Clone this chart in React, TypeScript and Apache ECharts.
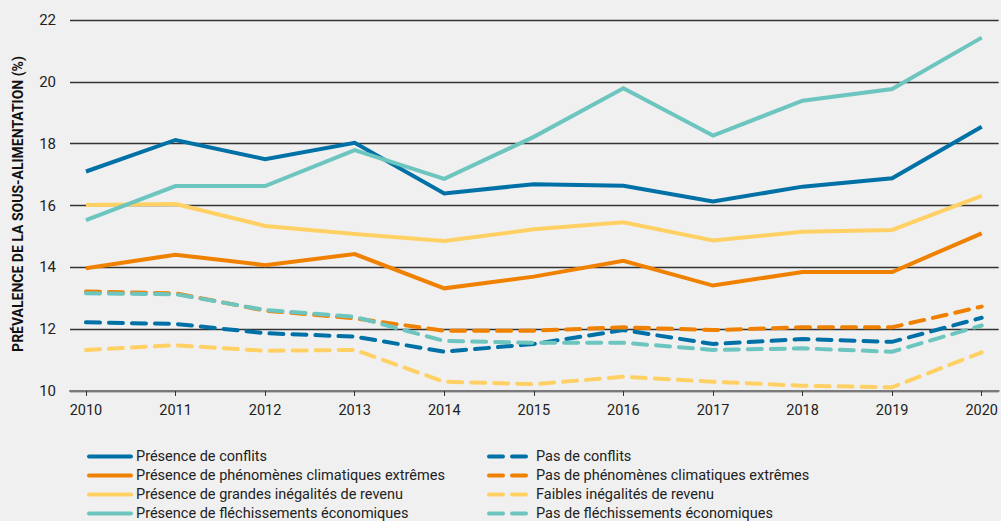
import React, { useEffect, useRef } from "react";
import * as echarts from "echarts";

const years = [2010, 2011, 2012, 2013, 2014, 2015, 2016, 2017, 2018, 2019, 2020];
const yTicks = [10, 12, 14, 16, 18, 20, 22];

const conflits = [17.1, 18.12, 17.5, 18.03, 16.39, 16.69, 16.64, 16.13, 16.61, 16.88, 18.55];
const climat = [13.97, 14.41, 14.07, 14.43, 13.32, 13.7, 14.21, 13.41, 13.85, 13.85, 15.1];
const inegal = [16.02, 16.05, 15.34, 15.08, 14.85, 15.23, 15.46, 14.87, 15.15, 15.21, 16.31];
const flech = [15.53, 16.63, 16.63, 17.79, 16.86, 18.22, 19.79, 18.26, 19.39, 19.77, 21.43];
const pasConflits = [12.22, 12.17, 11.87, 11.76, 11.27, 11.52, 11.97, 11.52, 11.68, 11.59, 12.37];
const pasClimat = [13.22, 13.16, 12.6, 12.35, 11.95, 11.95, 12.06, 11.97, 12.06, 12.06, 12.73];
const pasFlech = [13.16, 13.13, 12.62, 12.4, 11.62, 11.56, 11.56, 11.33, 11.38, 11.27, 12.12];
const faibleInegal = [11.33, 11.48, 11.3, 11.33, 10.3, 10.22, 10.46, 10.3, 10.17, 10.12, 11.25];

const names = {
  conflits: "Présence de conflits",
  climat: "Présence de phénomènes climatiques extrêmes",
  inegal: "Présence de grandes inégalités de revenu",
  flech: "Présence de fléchissements économiques",
  pasConflits: "Pas de conflits",
  pasClimat: "Pas de phénomènes climatiques extrêmes",
  faibleInegal: "Faibles inégalités de revenu",
  pasFlech: "Pas de fléchissements économiques",
};

const BLUE = "#0071a6";
const ORANGE = "#f08100";
const YELLOW = "#ffd164";
const TEAL = "#6cc5bf";
const FONT = "Roboto, 'Liberation Sans Narrow', sans-serif";
const DASH = [14, 9];

function mk(name: string, vals: number[], color: string, dashed: boolean) {
  return {
    name,
    type: "line",
    symbol: "none",
    data: years.map((y, i) => [y, vals[i]]),
    lineStyle: {
      color,
      width: 4,
      type: dashed ? DASH : "solid",
      cap: dashed ? "round" : "butt",
      join: "miter",
    },
    itemStyle: { color },
  };
}

const legendRows: [string, string, boolean, number, number][] = [
  [names.conflits, BLUE, false, 87, 0],
  [names.climat, ORANGE, false, 87, 1],
  [names.inegal, YELLOW, false, 87, 2],
  [names.flech, TEAL, false, 87, 3],
  [names.pasConflits, BLUE, true, 487, 0],
  [names.pasClimat, ORANGE, true, 487, 1],
  [names.faibleInegal, YELLOW, true, 487, 2],
  [names.pasFlech, TEAL, true, 487, 3],
];

export default function App() {
  const ref = useRef<HTMLDivElement>(null);
  useEffect(() => {
    const chart = echarts.init(ref.current!, null, { renderer: "svg" });
    const legends = legendRows.map(([name, color, dashed, left, row]) => ({
      orient: "horizontal",
      left,
      top: 449 + row * 19,
      padding: 0,
      itemWidth: 42,
      itemHeight: 14,
      itemGap: 5,
      textStyle: { fontFamily: FONT, fontSize: 14.5, color: "#222" },
      data: [
        {
          name,
          itemStyle: { opacity: 0 },
          lineStyle: { color, width: 4, type: dashed ? DASH : "solid", cap: "round", opacity: 1 },
        },
      ],
    }));
    chart.setOption({
      animation: false,
      backgroundColor: "#f0f0f0",
      textStyle: { fontFamily: FONT },
      grid: { left: 70, right: 0, top: 20, bottom: 130 },
      xAxis: {
        type: "value",
        min: 2010 - 16 / 89.8,
        max: 2020 + 17 / 89.8,
        splitLine: { show: false },
        axisLine: { show: true, lineStyle: { color: "#7a7a7a", width: 2 } },
        axisTick: { show: true, customValues: years, length: 5, lineStyle: { color: "#333", width: 1 } },
        axisLabel: {
          customValues: years,
          formatter: (v: number) => String(Math.round(v)),
          margin: 12,
          fontFamily: FONT,
          fontSize: 14.5,
          color: "#222",
        },
      },
      yAxis: {
        type: "value",
        min: 10,
        max: 22,
        interval: 2,
        axisLine: { show: false },
        axisTick: { show: false },
        splitLine: { lineStyle: { color: "#333", width: 1.3 } },
        axisLabel: {
          margin: 14,
          fontFamily: FONT,
          fontSize: 15,
          color: "#222",
          formatter: (v: number) => (yTicks.includes(v) ? String(v) : ""),
        },
      },
      legend: legends,
      graphic: [
        {
          type: "text",
          x: 18,
          y: 204,
          rotation: Math.PI / 2,
          style: {
            text: "PRÉVALENCE DE LA SOUS-ALIMENTATION (%)",
            fontFamily: FONT,
            fontWeight: "bold",
            fontSize: 14,
            fill: "#111",
            align: "center",
            verticalAlign: "middle",
          },
        },
      ],
      series: [
        mk(names.pasConflits, pasConflits, BLUE, true),
        mk(names.pasClimat, pasClimat, ORANGE, true),
        mk(names.pasFlech, pasFlech, TEAL, true),
        mk(names.faibleInegal, faibleInegal, YELLOW, true),
        mk(names.conflits, conflits, BLUE, false),
        mk(names.climat, climat, ORANGE, false),
        mk(names.inegal, inegal, YELLOW, false),
        mk(names.flech, flech, TEAL, false),
      ],
    });
    return () => chart.dispose();
  }, []);
  return <div ref={ref} style={{ width: 1001, height: 521, position: "absolute", left: 0, top: 0 }} />;
}
